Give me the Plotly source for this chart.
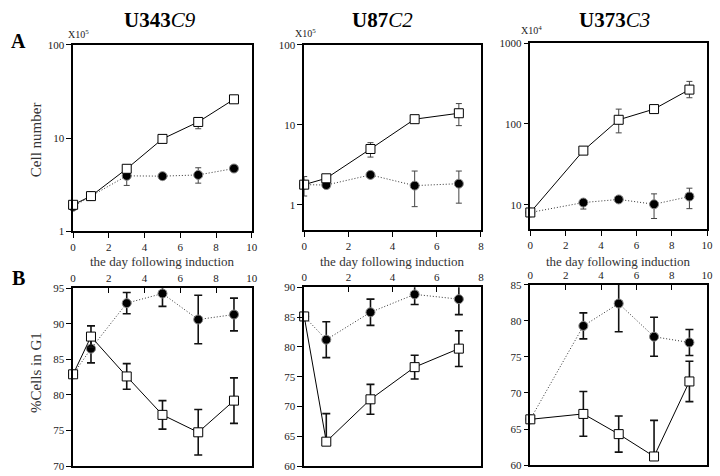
import plotly.graph_objects as go

W, H = 720, 476
FONT = "Liberation Serif"

# ---------------- data ----------------
days_343 = [0, 1, 3, 5, 7, 9]
days_87 = [0, 1, 3, 5, 7]
days_373 = [0, 3, 5, 7, 9]

# A: cell number
a343_sq = [1.92, 2.38, 4.68, 9.8, 14.9, 26.1]
a343_sq_up = [0, 0, 0, 0, 1.5, 0]
a343_sq_dn = [0, 0, 0, 0, 2.3, 0]
a343_ci = [1.83, 2.38, 3.93, 3.9, 4.02, 4.71]
a343_ci_up = [0, 0, 0.6, 0, 0.78, 0]
a343_ci_dn = [0, 0, 0.83, 0, 0.74, 0]

a87_sq = [1.79, 2.15, 5.0, 11.8, 14.0]
a87_sq_up = [0.47, 0, 1.0, 0, 4.5]
a87_sq_dn = [0.5, 0, 1.04, 0, 4.2]
a87_ci = [1.79, 1.77, 2.37, 1.74, 1.84]
a87_ci_up = [0, 0, 0, 0.91, 0.81]
a87_ci_dn = [0, 0, 0, 0.79, 0.79]

a373_sq = [8.07, 46.9, 112.7, 152.8, 266]
a373_sq_up = [0, 0, 40, 0, 70]
a373_sq_dn = [0, 0, 35, 0, 55]
a373_ci = [8.07, 10.7, 11.7, 10.2, 12.7]
a373_ci_up = [0, 0, 0, 3.5, 3.4]
a373_ci_dn = [0, 1.8, 0, 3.4, 3.7]

# B: % cells in G1
b343_sq = [82.9, 88.2, 82.6, 77.2, 74.75, 79.2]
b343_sq_up = [0, 1.5, 1.8, 2.0, 3.2, 3.2]
b343_sq_dn = [0, 1.5, 1.8, 2.0, 3.2, 3.2]
b343_ci = [82.9, 86.5, 92.9, 94.25, 90.6, 91.3]
b343_ci_up = [0, 2.0, 1.5, 1.8, 3.4, 2.3]
b343_ci_dn = [0, 2.0, 1.5, 1.8, 3.4, 2.3]

b87_sq = [85.1, 64.1, 71.2, 76.6, 79.7]
b87_sq_up = [0, 4.7, 2.5, 2.0, 3.0]
b87_sq_dn = [0, 0, 2.5, 2.0, 3.0]
b87_ci = [85.1, 81.2, 85.8, 88.8, 88.0]
b87_ci_up = [0, 3.0, 2.2, 1.7, 2.6]
b87_ci_dn = [0, 3.0, 2.2, 1.7, 2.6]

b373_sq = [66.35, 67.1, 64.3, 61.2, 71.6]
b373_sq_up = [0, 3.1, 2.5, 5.0, 2.8]
b373_sq_dn = [0, 3.1, 2.5, 0, 2.8]
b373_ci = [66.35, 79.3, 82.4, 77.8, 77.0]
b373_ci_up = [0, 1.8, 3.9, 2.7, 1.8]
b373_ci_dn = [0, 1.8, 3.9, 2.7, 1.8]

titles = [("U343", "C9"), ("U87", "C2"), ("U373", "C3")]
multipliers = [("X10", "5"), ("X10", "5"), ("X10", "4")]

# ---------------- layout helpers ----------------
def px_x(x):
    return x / W

def px_y(y):
    return 1 - y / H

fig = go.Figure()

def add_pair(xa, ya, days, sq, sq_up, sq_dn, ci, ci_up, ci_dn, thin):
    ecol = "#444" if thin else "#111"
    eth = 1 if thin else 1.6
    ew = 3 if thin else 4
    fig.add_trace(go.Scatter(
        x=days, y=ci, xaxis=xa, yaxis=ya, mode="lines+markers",
        line=dict(color="#333", width=1, dash="1px,2px"),
        marker=dict(symbol="circle", size=9, color="black",
                    line=dict(color="#888", width=1)),
        error_y=dict(type="data", symmetric=False, array=ci_up, arrayminus=ci_dn,
                     color=ecol, thickness=eth, width=ew),
        cliponaxis=False, showlegend=False))
    fig.add_trace(go.Scatter(
        x=days, y=sq, xaxis=xa, yaxis=ya, mode="lines+markers",
        line=dict(color="black", width=1),
        marker=dict(symbol="square", size=9, color="white",
                    line=dict(color="black", width=1)),
        error_y=dict(type="data", symmetric=False, array=sq_up, arrayminus=sq_dn,
                     color=ecol, thickness=eth, width=ew),
        cliponaxis=False, showlegend=False))

tickfont = dict(family=FONT, size=11, color="#222")
axis_common = dict(showline=True, linecolor="black", linewidth=1.5, mirror=True,
                   showgrid=False, zeroline=False, tickfont=tickfont,
                   tickcolor="black", tickwidth=1.3, ticklen=5)

panel_x = [(71, 252), (305, 484), (534, 713)]
a_y = [(40, 231), (40, 230), (38, 229)]
b_y = [(289.5, 472), (288.5, 472), (286, 471)]
x_ranges = [[0, 10], [0, 8], [0, 10]]
a_log_ranges = [[0, 2], [-0.317, 2], [0.7, 3]]
a_ticks = [[1, 10, 100], [1, 10, 100], [10, 100, 1000]]
b_ranges = [[70, 95], [60, 90], [60, 85]]

A_data = [
    (days_343, a343_sq, a343_sq_up, a343_sq_dn, a343_ci, a343_ci_up, a343_ci_dn),
    (days_87, a87_sq, a87_sq_up, a87_sq_dn, a87_ci, a87_ci_up, a87_ci_dn),
    (days_373, a373_sq, a373_sq_up, a373_sq_dn, a373_ci, a373_ci_up, a373_ci_dn),
]
B_data = [
    (days_343, b343_sq, b343_sq_up, b343_sq_dn, b343_ci, b343_ci_up, b343_ci_dn),
    (days_87, b87_sq, b87_sq_up, b87_sq_dn, b87_ci, b87_ci_up, b87_ci_dn),
    (days_373, b373_sq, b373_sq_up, b373_sq_dn, b373_ci, b373_ci_up, b373_ci_dn),
]

layout = {}
annotations = []
for i in range(3):
    na = 2 * i + 1
    nb = 2 * i + 2
    xl, xr = panel_x[i]
    # A panel
    layout[f"xaxis{na}"] = dict(axis_common, domain=[px_x(xl), px_x(xr)], anchor=f"y{na}",
                               range=x_ranges[i], dtick=2, ticks="outside")
    layout[f"yaxis{na}"] = dict(axis_common, domain=[px_y(a_y[i][1]), px_y(a_y[i][0])],
                               anchor=f"x{na}", type="log", range=a_log_ranges[i],
                               tickvals=a_ticks[i], ticktext=[str(t) for t in a_ticks[i]],
                               ticks="outside")
    # B panel
    layout[f"xaxis{nb}"] = dict(axis_common, domain=[px_x(xl), px_x(xr)], anchor=f"y{nb}",
                               range=x_ranges[i], dtick=2, ticks="inside", side="top")
    layout[f"yaxis{nb}"] = dict(axis_common, domain=[px_y(b_y[i][1]), px_y(b_y[i][0])],
                               anchor=f"x{nb}", range=b_ranges[i], dtick=5,
                               ticks="outside")
    add_pair(f"x{na}", f"y{na}", *A_data[i], thin=True)
    add_pair(f"x{nb}", f"y{nb}", *B_data[i], thin=False)

    cx = (xl + xr) / 2
    # titles
    title_cx = [159, 384, 619][i]
    annotations.append(dict(
        text=f"<b>{titles[i][0]}</b><i>{titles[i][1]}</i>", x=px_x(title_cx), y=px_y(14),
        xref="paper", yref="paper", xanchor="center", yanchor="middle", showarrow=False,
        font=dict(family=FONT, size=21, color="black")))
    # multiplier
    mx = [76, 306, 535][i]
    my = [37, 36, 33][i]
    annotations.append(dict(
        text=f"{multipliers[i][0]}<sup>{multipliers[i][1]}</sup>", x=px_x(mx), y=px_y(my),
        xref="paper", yref="paper", xanchor="center", yanchor="bottom", showarrow=False,
        font=dict(family=FONT, size=10, color="#222")))
    # x axis title
    annotations.append(dict(
        text="the day following induction", x=px_x(cx), y=px_y(262),
        xref="paper", yref="paper", xanchor="center", yanchor="middle", showarrow=False,
        font=dict(family=FONT, size=13, color="#333")))

annotations += [
    dict(text="<b>A</b>", x=px_x(16), y=px_y(36), xref="paper", yref="paper",
         xanchor="center", yanchor="middle", showarrow=False,
         font=dict(family=FONT, size=20, color="black")),
    dict(text="<b>B</b>", x=px_x(16), y=px_y(279), xref="paper", yref="paper",
         xanchor="center", yanchor="middle", showarrow=False,
         font=dict(family=FONT, size=20, color="black")),
    dict(text="Cell number", x=px_x(33), y=px_y(137), xref="paper", yref="paper",
         xanchor="center", yanchor="middle", showarrow=False, textangle=-90,
         font=dict(family=FONT, size=15, color="#333")),
    dict(text="%Cells in G1", x=px_x(33), y=px_y(376), xref="paper", yref="paper",
         xanchor="center", yanchor="middle", showarrow=False, textangle=-90,
         font=dict(family=FONT, size=15, color="#333")),
]

fig.update_layout(
    width=W, height=H, margin=dict(l=0, r=0, t=0, b=0),
    paper_bgcolor="white", plot_bgcolor="white",
    annotations=annotations, **layout)

fig.write_html("out.html", config={"displayModeBar": False},
               post_script="document.body.style.margin='0';document.body.style.overflow='hidden';")
